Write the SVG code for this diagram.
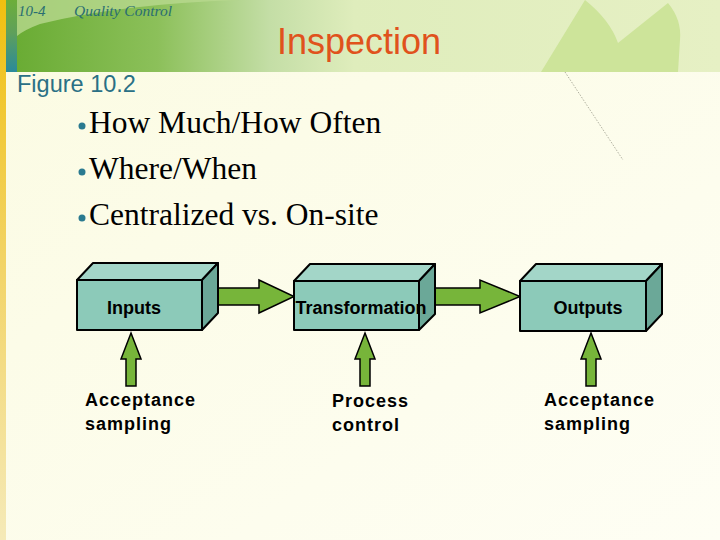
<svg xmlns="http://www.w3.org/2000/svg" width="720" height="540" viewBox="0 0 720 540">
<defs>
<linearGradient id="bg" x1="0" y1="0" x2="1" y2="1">
<stop offset="0" stop-color="#fbfbe2"/>
<stop offset="1" stop-color="#fefef4"/>
</linearGradient>
<linearGradient id="hdr" x1="17" y1="0" x2="720" y2="0" gradientUnits="userSpaceOnUse">
<stop offset="0" stop-color="#6aac34"/>
<stop offset="0.2" stop-color="#8cc05a"/>
<stop offset="0.36" stop-color="#c4dea6"/>
<stop offset="0.48" stop-color="#dfedbc"/>
<stop offset="1" stop-color="#e6f0c4"/>
</linearGradient>
<linearGradient id="ybar" x1="0" y1="0" x2="0" y2="1">
<stop offset="0" stop-color="#f0c010"/>
<stop offset="0.5" stop-color="#f2d468"/>
<stop offset="1" stop-color="#f5eab8"/>
</linearGradient>
<linearGradient id="tbar" x1="0" y1="0" x2="0" y2="1">
<stop offset="0" stop-color="#6cae3a"/>
<stop offset="0.45" stop-color="#5fa05a"/>
<stop offset="1" stop-color="#2a8a9c"/>
</linearGradient>
<style>
.front{fill:#8ccab9;stroke:#000;stroke-width:2;stroke-linejoin:round}
.top{fill:#a3d6c8;stroke:#000;stroke-width:2;stroke-linejoin:round}
.side{fill:#6ba898;stroke:#000;stroke-width:2;stroke-linejoin:round}
.arr{fill:#77b53a;stroke:#000;stroke-width:1.5;stroke-linejoin:miter}
.lbl{font-family:"Liberation Sans",Arial,sans-serif;font-weight:bold;font-size:18px;fill:#000}
.sub{font-family:"Liberation Sans",Arial,sans-serif;font-weight:bold;font-size:18px;letter-spacing:1px;fill:#000}
.bul{font-family:"Liberation Serif","Times New Roman",serif;font-size:31.5px;fill:#000}
.dot{fill:#2a7a90}
</style>
</defs>

<!-- background -->
<rect x="0" y="0" width="720" height="540" fill="url(#bg)"/>
<rect x="0" y="0" width="6" height="540" fill="url(#ybar)"/>

<!-- header band -->
<rect x="17" y="0" width="703" height="72" fill="url(#hdr)"/>
<path d="M17,0 L240,0 Q120,4 40,24 Q24,30 17,36 Z" fill="#b8d88e" opacity="0.8"/>
<path d="M541,72 L585,0 Q610,20 618,43 L668,3 Q682,20 680,40 L678,72 Z" fill="#cde49a"/>
<rect x="6" y="0" width="11" height="72" fill="url(#tbar)"/>
<line x1="565" y1="72" x2="623" y2="160" stroke="#9a9a8a" stroke-width="0.8" stroke-dasharray="1.5,1.5"/>

<!-- header texts -->
<text x="18" y="16" font-family="'Liberation Serif','Times New Roman',serif" font-style="italic" font-size="15" fill="#2a6e72">10-4</text>
<text x="74" y="16" font-family="'Liberation Serif','Times New Roman',serif" font-style="italic" font-size="15.5" fill="#2a6e72">Quality Control</text>
<text x="359" y="54" text-anchor="middle" font-family="'Liberation Sans',Arial,sans-serif" font-size="36" fill="#e0521c">Inspection</text>
<text x="17" y="92" font-family="'Liberation Sans',Arial,sans-serif" font-size="23.5" fill="#2a7085">Figure 10.2</text>

<!-- bullets -->
<g id="bullets">
<circle class="dot" cx="82" cy="126" r="3.5"/>
<text class="bul" x="89" y="133">How Much/How Often</text>
<circle class="dot" cx="82" cy="172" r="3.5"/>
<text class="bul" x="89" y="179">Where/When</text>
<circle class="dot" cx="82" cy="218" r="3.5"/>
<text class="bul" x="89" y="225">Centralized vs. On-site</text>
</g>

<!-- connectors -->
<g id="connectors">
<path class="arr" d="M218,288 L259,288 L259,280 L294,296.5 L259,313 L259,305 L218,305 Z"/>
<path class="arr" d="M435,288 L480,288 L480,280 L520,296.5 L480,313 L480,305 L435,305 Z"/>
<path class="arr" d="M131,333 L141,359 L136,359 L136,386 L126,386 L126,359 L121,359 Z"/>
<path class="arr" d="M365,333 L375,359 L370,359 L370,386 L360,386 L360,359 L355,359 Z"/>
<path class="arr" d="M591,333 L601,359 L596,359 L596,386 L586,386 L586,359 L581,359 Z"/>
</g>

<!-- nodes -->
<g id="inputs">
<polygon class="top" points="77,280 93,263 218,263 202,280"/>
<polygon class="side" points="202,280 218,263 218,313 202,330"/>
<rect class="front" x="77" y="280" width="125" height="50"/>
<text class="lbl" x="134" y="314" text-anchor="middle">Inputs</text>
</g>
<g id="transformation">
<polygon class="top" points="294,281 310,264 435,264 419,281"/>
<polygon class="side" points="419,281 435,264 435,314 419,330"/>
<rect class="front" x="294" y="281" width="125" height="49"/>
<text class="lbl" x="361" y="314" text-anchor="middle">Transformation</text>
</g>
<g id="outputs">
<polygon class="top" points="520,281 536,264 662,264 646,281"/>
<polygon class="side" points="646,281 662,264 662,314 646,331"/>
<rect class="front" x="520" y="281" width="126" height="50"/>
<text class="lbl" x="588" y="314" text-anchor="middle">Outputs</text>
</g>

<g id="acceptance-in">
<text class="sub" x="85" y="406">Acceptance</text>
<text class="sub" x="85" y="430">sampling</text>
</g>
<g id="process-control">
<text class="sub" x="332" y="407">Process</text>
<text class="sub" x="332" y="431">control</text>
</g>
<g id="acceptance-out">
<text class="sub" x="544" y="406">Acceptance</text>
<text class="sub" x="544" y="430">sampling</text>
</g>
</svg>
